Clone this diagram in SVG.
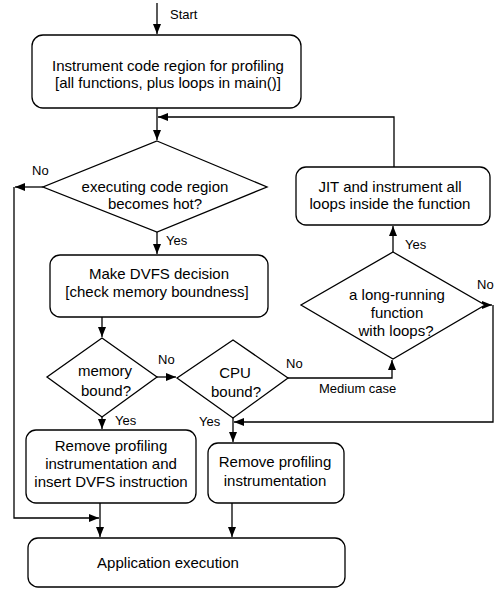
<svg xmlns="http://www.w3.org/2000/svg" width="495" height="591" viewBox="0 0 495 591">
<style>
.n{fill:#fff;stroke:#000;stroke-width:1.3}
.t{font-family:"Liberation Sans",Arial,sans-serif;font-size:15px;fill:#000;text-anchor:middle}
.l{font-family:"Liberation Sans",Arial,sans-serif;font-size:13px;fill:#000}
.c{fill:none;stroke:#000;stroke-width:1.3}
</style>
<defs>
<marker id="a" markerUnits="userSpaceOnUse" markerWidth="11" markerHeight="9" refX="10" refY="4" orient="auto"><path d="M0,0 L10,4 L0,8 z" fill="#000"/></marker>
</defs>
<rect width="495" height="591" fill="#fff"/>
<g id="connectors">
<path class="c" d="M157,3 V34" marker-end="url(#a)"/>
<path class="c" d="M157,108 V140" marker-end="url(#a)"/>
<path class="c" d="M394,167 V117 H158" marker-end="url(#a)"/>
<path class="c" d="M43,187 H15" marker-end="url(#a)"/>
<path class="c" d="M14,187 V518 H99" marker-end="url(#a)"/>
<path class="c" d="M157,232 V254" marker-end="url(#a)"/>
<path class="c" d="M102,317 V337" marker-end="url(#a)"/>
<path class="c" d="M157,377 H176" marker-end="url(#a)"/>
<path class="c" d="M288,378 H392 V360" marker-end="url(#a)"/>
<path class="c" d="M393,252 V226" marker-end="url(#a)"/>
<path class="c" d="M485,305 H492" marker-end="url(#a)"/>
<path class="c" d="M493,305 V422 H234" marker-end="url(#a)"/>
<path class="c" d="M102,417 V429" marker-end="url(#a)"/>
<path class="c" d="M233,418 V442" marker-end="url(#a)"/>
<path class="c" d="M100,503 V537" marker-end="url(#a)"/>
<path class="c" d="M232,503 V537" marker-end="url(#a)"/>
<text class="l" x="170" y="19">Start</text>
<text class="l" x="32" y="175">No</text>
<text class="l" x="166" y="245">Yes</text>
<text class="l" x="158" y="364">No</text>
<text class="l" x="286" y="368">No</text>
<text class="l" x="319" y="393">Medium case</text>
<text class="l" x="405" y="249">Yes</text>
<text class="l" x="477" y="289">No</text>
<text class="l" x="115" y="425">Yes</text>
<text class="l" x="199" y="426">Yes</text>
</g>
<g id="instrument">
<rect class="n" x="32" y="35" width="269" height="73" rx="11"/>
<text class="t" x="168" y="71">Instrument code region for profiling</text>
<text class="t" x="168" y="88">[all functions, plus  loops in main()]</text>
</g>
<g id="hot">
<polygon class="n" points="157,141 267,187 157,232 43,187"/>
<text class="t" x="155" y="192">executing code region</text>
<text class="t" x="155" y="209">becomes hot?</text>
</g>
<g id="dvfs">
<rect class="n" x="50" y="255" width="218" height="62" rx="10"/>
<text class="t" x="159" y="279">Make DVFS decision</text>
<text class="t" x="157" y="297">[check memory boundness]</text>
</g>
<g id="membound">
<polygon class="n" points="102,338 157,377 102,417 47,377"/>
<text class="t" x="105" y="376">memory</text>
<text class="t" x="106" y="396">bound?</text>
</g>
<g id="cpubound">
<polygon class="n" points="233,340 288,378 233,418 177,378"/>
<text class="t" x="235" y="378">CPU</text>
<text class="t" x="236" y="397">bound?</text>
</g>
<g id="longrunning">
<polygon class="n" points="393,252 485,305 393,359 301,305"/>
<text class="t" x="397" y="300">a long-running</text>
<text class="t" x="397" y="318">function</text>
<text class="t" x="396" y="336">with loops?</text>
</g>
<g id="jit">
<rect class="n" x="296" y="167" width="194" height="58" rx="10"/>
<text class="t" x="390" y="192">JIT and  instrument all</text>
<text class="t" x="390" y="209">loops inside the function</text>
</g>
<g id="removeinsert">
<rect class="n" x="26" y="430" width="170" height="73" rx="10"/>
<text class="t" x="111" y="451">Remove profiling</text>
<text class="t" x="111" y="469">instrumentation and</text>
<text class="t" x="111" y="487">insert DVFS instruction</text>
</g>
<g id="remove">
<rect class="n" x="208" y="443" width="136" height="60" rx="10"/>
<text class="t" x="275" y="467">Remove profiling</text>
<text class="t" x="275" y="486">instrumentation</text>
</g>
<g id="app">
<rect class="n" x="28" y="538" width="317" height="49" rx="10"/>
<text class="t" x="168" y="568">Application execution</text>
</g>
</svg>
